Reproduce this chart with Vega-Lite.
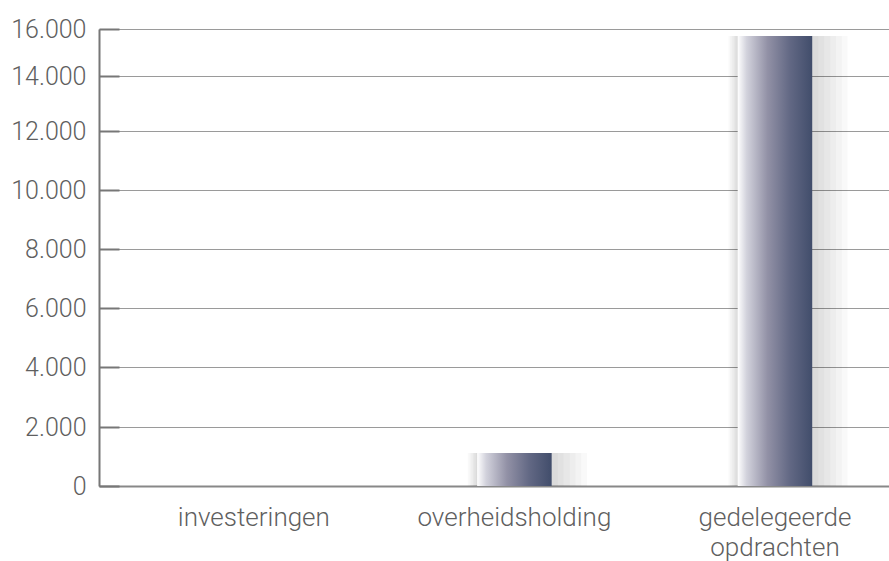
{
  "$schema": "https://vega.github.io/schema/vega-lite/v6.json",
  "width": 790,
  "height": 457,
  "autosize": {"type": "none"},
  "padding": {"left": 99, "top": 29, "right": 0, "bottom": 75},
  "background": "#ffffff",
  "config": {"view": {"stroke": null}},
  "data": {"values": [
    {"categorie": "investeringen", "waarde": 0},
    {"categorie": "overheidsholding", "waarde": 1120},
    {"categorie": "gedelegeerde opdrachten", "waarde": 15700}
  ]},
  "encoding": {
    "x": {
      "field": "categorie", "type": "nominal", "sort": null,
      "scale": {"paddingInner": 0.714, "paddingOuter": 0.373, "align": 0.605},
      "axis": {
        "title": null, "labelAngle": 0, "ticks": false,
        "domainColor": "#888888", "domainWidth": 2,
        "labelFont": "Roboto", "labelFontSize": 26, "labelFontWeight": 300, "labelColor": "#5f5f5f",
        "labelPadding": 18, "labelLineHeight": 30, "labelLimit": 400,
        "labelExpr": "split(datum.label, ' ')"
      }
    },
    "y": {
      "field": "waarde", "type": "quantitative",
      "scale": {
        "domain": [0, 2000, 4000, 6000, 8000, 10000, 12000, 14000, 16000],
        "range": [457, 398, 338, 279, 220, 161, 102, 47, 0],
        "nice": false, "zero": false
      },
      "axis": {
        "title": null,
        "values": [0, 2000, 4000, 6000, 8000, 10000, 12000, 14000, 16000],
        "labelExpr": "replace(format(datum.value, ','), ',', '.')",
        "domainColor": "#777777", "domainWidth": 2,
        "tickColor": "#777777", "tickWidth": 2, "tickSize": -20,
        "labelPadding": 33,
        "grid": true, "gridColor": "#9a9a9a", "gridWidth": 1,
        "labelFont": "Roboto", "labelFontSize": 25, "labelFontWeight": 300, "labelColor": "#5f5f5f"
      }
    }
  },
  "layer": [
    {"mark": {"type": "bar", "color": "#000000", "opacity": 0.022, "width": {"band": 1.6}, "xOffset": 13}},
    {"mark": {"type": "bar", "color": "#000000", "opacity": 0.022, "width": {"band": 1.5}, "xOffset": 11}},
    {"mark": {"type": "bar", "color": "#000000", "opacity": 0.022, "width": {"band": 1.4}, "xOffset": 9}},
    {"mark": {"type": "bar", "color": "#000000", "opacity": 0.022, "width": {"band": 1.3}, "xOffset": 7}},
    {"mark": {"type": "bar", "color": "#000000", "opacity": 0.022, "width": {"band": 1.2}, "xOffset": 4.5}},
    {"mark": {"type": "bar", "color": "#000000", "opacity": 0.022, "width": {"band": 1.1}, "xOffset": 2.5}},
    {"mark": {
      "type": "bar",
      "color": {
        "gradient": "linear", "x1": 0, "y1": 0, "x2": 1, "y2": 0,
        "stops": [
          {"offset": 0, "color": "#ffffff"},
          {"offset": 0.12, "color": "#d2d2dc"},
          {"offset": 0.4, "color": "#9291a6"},
          {"offset": 0.7, "color": "#626884"},
          {"offset": 1, "color": "#414d6b"}
        ]
      }
    }}
  ]
}
